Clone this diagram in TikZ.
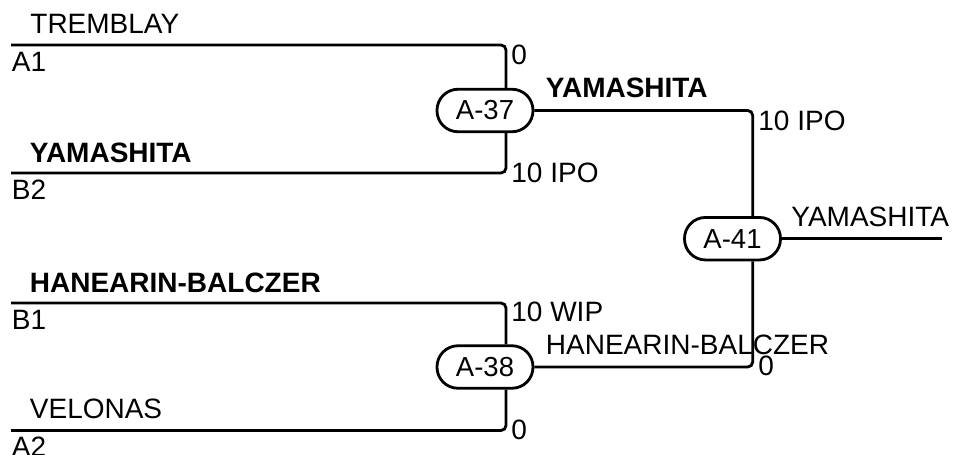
\documentclass[tikz,border=0pt]{standalone}
\usepackage{fontspec}
\setmainfont{Liberation Sans}
\begin{document}
\begin{tikzpicture}[x=1pt,y=-1pt,
  line width=2.8pt,
  font=\fontsize{28}{30}\selectfont,
  game/.style={draw, rounded corners=21pt, minimum width=96pt, minimum height=42.5pt, inner sep=0pt, font=\fontsize{27.5}{30}\selectfont},
  wire/.style={rounded corners=5pt},
  lbl/.style={anchor=base west, inner sep=0pt},
  win/.style={lbl, font=\fontsize{28}{30}\selectfont\bfseries}]
\useasboundingbox (0,0) rectangle (956,455);

% games
\node[game] (A37) at (485,110.5) {A-37};
\node[game] (A38) at (485,367) {A-38};
\node[game] (A41) at (732.5,238.7) {A-41};

% entry points
\coordinate (A1) at (11,45);
\coordinate (B2) at (11,173);
\coordinate (B1) at (11,303);
\coordinate (A2) at (11,430.5);
\coordinate (out) at (941.7,238.7);

% connectors
\draw[wire] (A1) -| ([xshift=21pt]A37.north);
\draw[wire] (B2) -| ([xshift=21pt]A37.south);
\draw[wire] (B1) -| ([xshift=21pt]A38.north);
\draw[wire] (A2) -| ([xshift=21pt]A38.south);
\draw[wire] (A37.east) -| ([xshift=20.2pt]A41.north);
\draw[wire] (A38.east) -| ([xshift=20.2pt]A41.south);
\draw (A41.east) -- (out);

% left labels
\node[lbl] (t1) at (29,34) {TREMBLAY};
\node[lbl] (s1) at (10.5,71) {A1};
\node[win] (t2) at (28.5,162) {YAMASHITA};
\node[lbl] (s2) at (10.5,199) {B2};
\node[win] (t3) at (28.5,292) {HANEARIN-BALCZER};
\node[lbl] (s3) at (10.5,329) {B1};
\node[lbl] (t4) at (28.5,418) {VELONAS};
\node[lbl] (s4) at (10.5,456.5) {A2};

% scores
\node[lbl] (c1) at (510,64.5) {0};
\node[lbl] (c2) at (510,182) {10 IPO};
\node[lbl] (c3) at (510,321.7) {10 WIP};
\node[lbl] (c4) at (510,439) {0};
\node[lbl] (c5) at (757,130) {10 IPO};
\node[lbl] (c6) at (757,375) {0};

% winners
\node[win] (w1) at (544.5,97.3) {YAMASHITA};
\node[lbl] (w2) at (544.5,354.5) {HANEARIN-BALCZER};
\node[lbl] (w3) at (790,226) {YAMASHITA};
\end{tikzpicture}
\end{document}
